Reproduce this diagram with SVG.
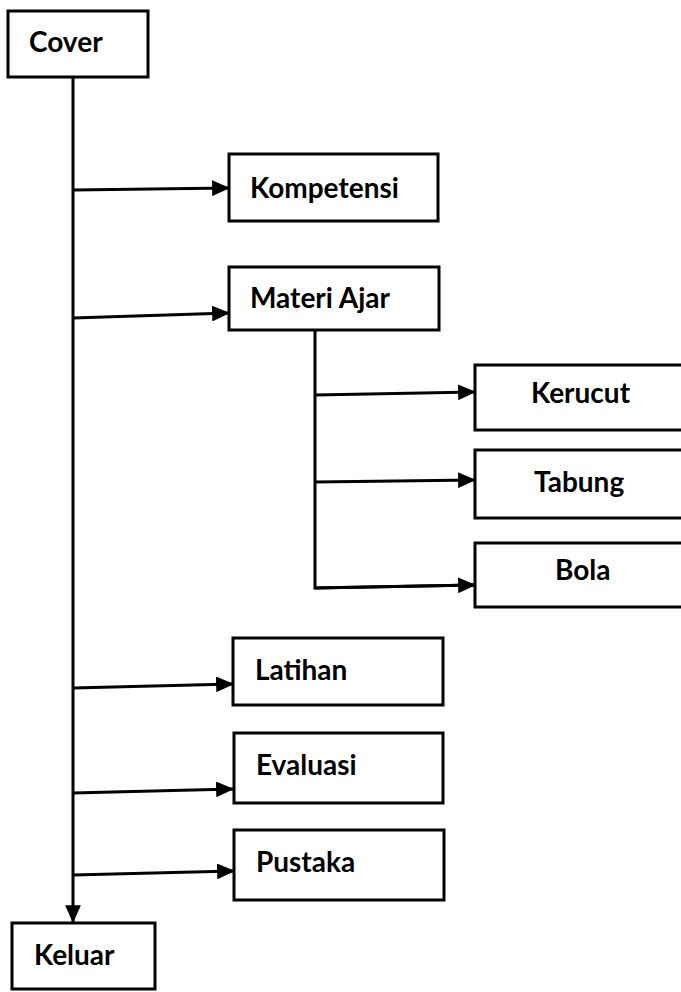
<svg xmlns="http://www.w3.org/2000/svg" width="681" height="992" viewBox="0 0 681 992">
<style>
.box{fill:#fff;stroke:#000;stroke-width:3}
.lbl{font-family:Lato,"Open Sans","Liberation Sans",sans-serif;font-weight:bold;font-size:28px;fill:#000}
.ln{fill:none;stroke:#000;stroke-width:3}
</style>
<defs>
<marker id="ah" viewBox="0 0 16 14" refX="15" refY="7" markerWidth="6" markerHeight="5.25" markerUnits="strokeWidth" orient="auto">
<path d="M0,0 L16,7 L0,14 Z" fill="#000"/>
</marker>
</defs>
<rect width="681" height="992" fill="#fff"/>
<g id="connectors">
<path class="ln" d="M73,77 V922" marker-end="url(#ah)"/>
<path class="ln" d="M73,190 L229,188" marker-end="url(#ah)"/>
<path class="ln" d="M73,318 L229,313" marker-end="url(#ah)"/>
<path class="ln" d="M315,330 V588 L475,585"/>
<path class="ln" d="M315,395 L475,392" marker-end="url(#ah)"/>
<path class="ln" d="M315,482 L475,480" marker-end="url(#ah)"/>
<path class="ln" d="M315,588 L475,585" marker-end="url(#ah)"/>
<path class="ln" d="M73,688 L233,684" marker-end="url(#ah)"/>
<path class="ln" d="M73,793 L233,789" marker-end="url(#ah)"/>
<path class="ln" d="M73,875 L234,871" marker-end="url(#ah)"/>
</g>
<g id="cover"><rect class="box" x="8" y="11" width="140" height="66"/><text class="lbl" x="29" y="52">Cover</text></g>
<g id="kompetensi"><rect class="box" x="229" y="154" width="209" height="67"/><text class="lbl" x="250" y="198">Kompetensi</text></g>
<g id="materi"><rect class="box" x="229" y="267" width="210" height="63"/><text class="lbl" x="250" y="308">Materi Ajar</text></g>
<g id="kerucut"><rect class="box" x="475" y="365" width="220" height="65"/><text class="lbl" x="531" y="403">Kerucut</text></g>
<g id="tabung"><rect class="box" x="475" y="450" width="220" height="68"/><text class="lbl" x="534" y="492">Tabung</text></g>
<g id="bola"><rect class="box" x="475" y="543" width="220" height="64"/><text class="lbl" x="555" y="580">Bola</text></g>
<g id="latihan"><rect class="box" x="233" y="638" width="210" height="67"/><text class="lbl" x="255" y="680">Latihan</text></g>
<g id="evaluasi"><rect class="box" x="234" y="733" width="209" height="70"/><text class="lbl" x="256" y="775">Evaluasi</text></g>
<g id="pustaka"><rect class="box" x="234" y="830" width="210" height="70"/><text class="lbl" x="256" y="872">Pustaka</text></g>
<g id="keluar"><rect class="box" x="12" y="923" width="143" height="66"/><text class="lbl" x="34" y="965">Keluar</text></g>
</svg>
